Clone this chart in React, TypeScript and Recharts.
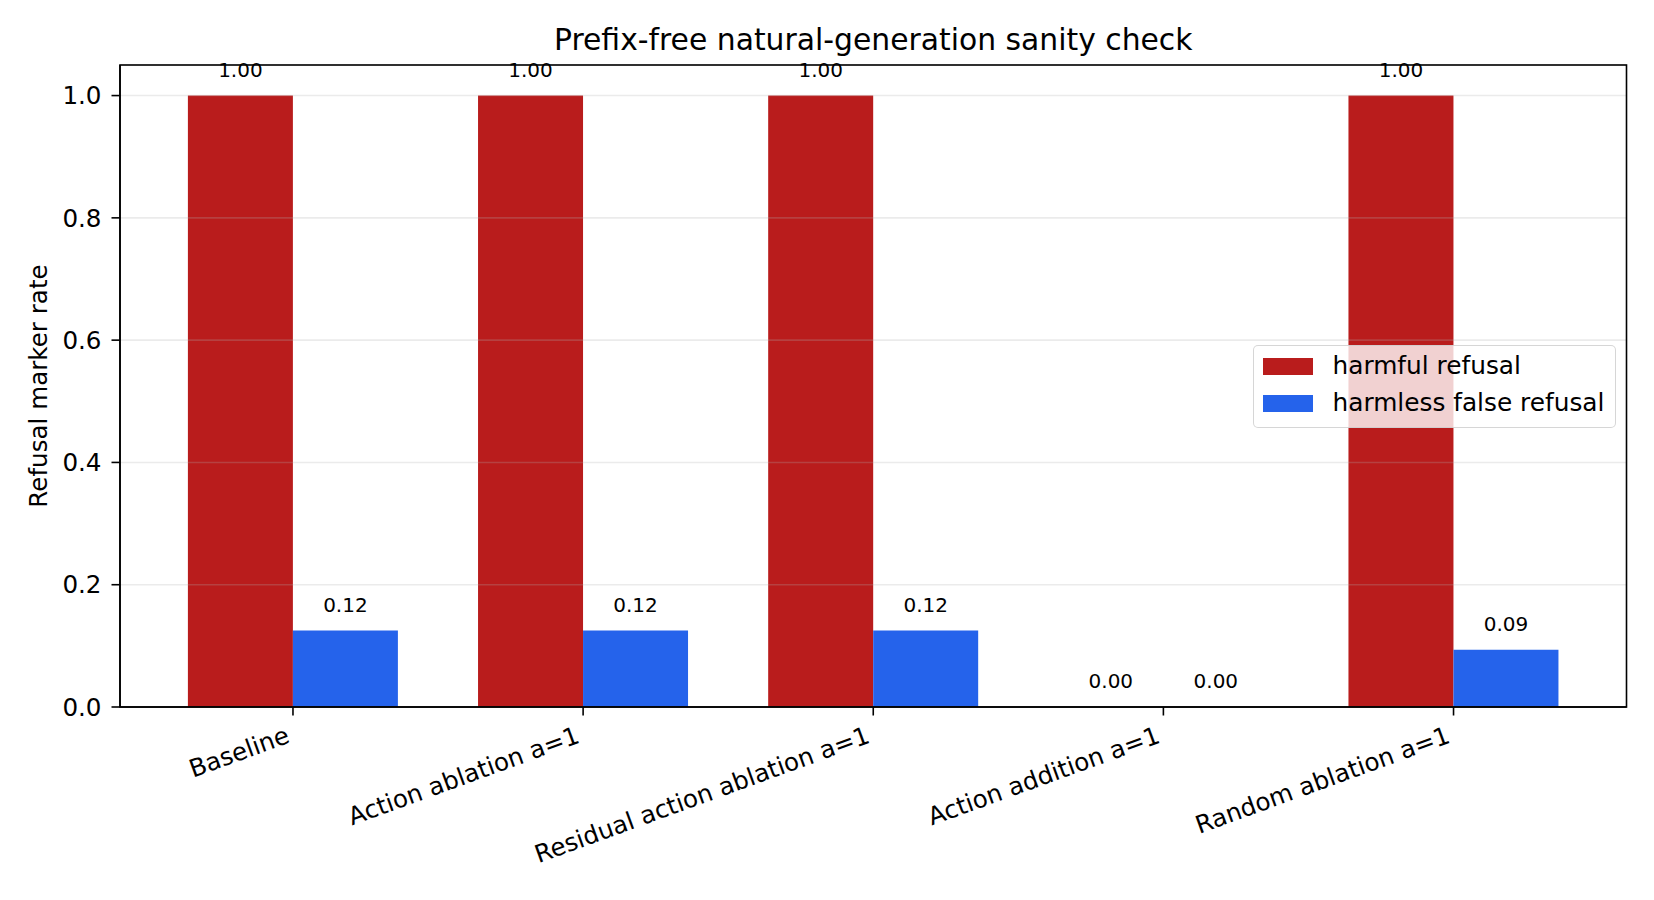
import { BarChart, Bar, XAxis, YAxis, CartesianGrid, LabelList } from 'recharts';

const FONT = '"DejaVu Sans", sans-serif';

const categories = [
  'Baseline',
  'Action ablation a=1',
  'Residual action ablation a=1',
  'Action addition a=1',
  'Random ablation a=1',
];
const harmfulRefusal = [1.0, 1.0, 1.0, 0.0, 1.0];
const harmlessFalseRefusal = [0.125, 0.125, 0.125, 0.0, 0.09375];
const yTicks = [0, 0.2, 0.4, 0.6, 0.8, 1.0];
const seriesNames = ['harmful refusal', 'harmless false refusal'];
const seriesColors = ['#b91c1c', '#2563eb'];

const data = categories.map((name, i) => ({
  name,
  harmful: harmfulRefusal[i],
  harmless: harmlessFalseRefusal[i],
}));

// layout of the figure
const W = 1654;
const H = 900;
const TOP = 65;
const RIGHT = 27.5;
const Y_AXIS_W = 120;
const X_AXIS_H = 193;
const PLOT_W = W - Y_AXIS_W - RIGHT;
const PLOT_H = H - TOP - X_AXIS_H;

// round half to even, like the python formatting of the source plot (0.125 -> 0.12)
const fmt2 = (v: number) => {
  const s = v * 100;
  const f = Math.floor(s);
  const r = s - f;
  const n = r > 0.5 ? f + 1 : r < 0.5 ? f : f % 2 === 0 ? f : f + 1;
  return (n / 100).toFixed(2);
};

const ValueLabel = (props: any) => {
  const vb = props.viewBox && props.viewBox.x != null ? props.viewBox : props;
  const x = Number(vb.x) + Number(vb.width) / 2;
  const y = Math.min(Number(vb.y), Number(vb.y) + Number(vb.height || 0));
  return (
    <text x={x} y={y - 19} textAnchor="middle" fontSize={20} fontFamily={FONT} fill="#000">
      {fmt2(Number(props.value))}
    </text>
  );
};

// rotated 20deg, right end of the label sits under the tick (matplotlib ha="right")
const XTick = ({ x, y, payload }: any) => {
  const fs = 24.6;
  const ox = x - 0.342 * 0.24 * fs;
  const oy = y + 0.94 * 0.76 * fs;
  return (
    <text
      x={ox}
      y={oy}
      transform={`rotate(-20, ${ox}, ${oy})`}
      textAnchor="end"
      fontSize={fs}
      fontFamily={FONT}
      fill="#000"
    >
      {payload.value}
    </text>
  );
};

const YLabel = (props: any) => {
  const vb = props.viewBox || { x: 0, y: TOP, width: Y_AXIS_W, height: PLOT_H };
  const cy = vb.y + vb.height / 2;
  return (
    <text
      x={47}
      y={cy}
      transform={`rotate(-90, 47, ${cy})`}
      textAnchor="middle"
      fontSize={24.6}
      fontFamily={FONT}
      fill="#000"
    >
      Refusal marker rate
    </text>
  );
};

export default function App() {
  return (
    <div
      style={{
        position: 'absolute',
        left: 0,
        top: 0,
        width: W,
        height: H,
        background: '#ffffff',
        fontFamily: FONT,
      }}
    >
      <BarChart
        width={W}
        height={H}
        data={data}
        margin={{ top: TOP, right: RIGHT, bottom: 0, left: 0 }}
        barGap={0}
        barSize={105}
      >
        <XAxis
          dataKey="name"
          height={X_AXIS_H}
          interval={0}
          padding={{ left: 27.9, right: 27.9 }}
          axisLine={{ stroke: '#000', strokeWidth: 1.6 }}
          tickLine={{ stroke: '#000', strokeWidth: 1.6 }}
          tickSize={8.5}
          tickMargin={9}
          tick={<XTick />}
        />
        <YAxis
          width={Y_AXIS_W}
          domain={[0, 1.05]}
          ticks={yTicks}
          tickFormatter={(v: number) => v.toFixed(1)}
          axisLine={{ stroke: '#000', strokeWidth: 1.6 }}
          tickLine={{ stroke: '#000', strokeWidth: 1.6 }}
          tickSize={8.5}
          tickMargin={10}
          tick={{ fill: '#000', fontSize: 24.6, fontFamily: FONT }}
          label={{ content: YLabel }}
        />
        <Bar
          dataKey="harmful"
          name={seriesNames[0]}
          fill={seriesColors[0]}
          minPointSize={0.01}
          isAnimationActive={false}
        >
          <LabelList dataKey="harmful" content={ValueLabel} />
        </Bar>
        <Bar
          dataKey="harmless"
          name={seriesNames[1]}
          fill={seriesColors[1]}
          minPointSize={0.01}
          isAnimationActive={false}
        >
          <LabelList dataKey="harmless" content={ValueLabel} />
        </Bar>
        {/* grid sits over the bars in the source, faint */}
        <CartesianGrid
          vertical={false}
          stroke="#b0b0b0"
          strokeOpacity={0.25}
          strokeWidth={1.6}
          zIndex={350}
        />
      </BarChart>

      {/* title and the full axes frame */}
      <svg
        width={W}
        height={H}
        style={{ position: 'absolute', left: 0, top: 0, pointerEvents: 'none' }}
      >
        <text
          x={Y_AXIS_W + PLOT_W / 2}
          y={TOP - 15}
          textAnchor="middle"
          fontSize={29.8}
          fontFamily={FONT}
          fill="#000"
        >
          Prefix-free natural-generation sanity check
        </text>
        <rect
          x={Y_AXIS_W}
          y={TOP}
          width={PLOT_W}
          height={PLOT_H}
          fill="none"
          stroke="#000"
          strokeWidth={1.6}
        />
      </svg>

      {/* legend, semi transparent frame like matplotlib's */}
      <div
        style={{
          position: 'absolute',
          left: 1253,
          top: 345,
          width: 363,
          height: 83,
          boxSizing: 'border-box',
          border: '1.5px solid rgba(204,204,204,0.8)',
          borderRadius: 5,
          background: 'rgba(255,255,255,0.8)',
          padding: '1.5px 0 0 8.5px',
        }}
      >
        {seriesNames.map((n, i) => (
          <div key={n} style={{ display: 'flex', alignItems: 'center', height: 37 }}>
            <span
              style={{ width: 50, height: 17, background: seriesColors[i], marginRight: 20, flex: 'none' }}
            />
            <span style={{ fontSize: 24.8, color: '#000', whiteSpace: 'nowrap', lineHeight: 1 }}>{n}</span>
          </div>
        ))}
      </div>
    </div>
  );
}
